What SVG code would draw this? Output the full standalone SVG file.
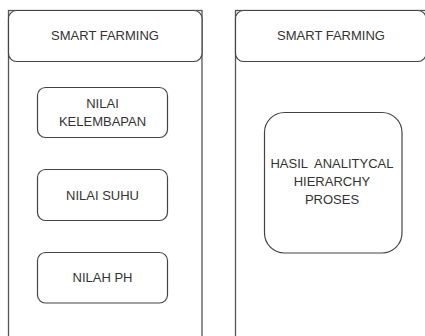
<svg xmlns="http://www.w3.org/2000/svg" width="425" height="336" viewBox="0 0 425 336">
<style>
.panel{fill:#fff;stroke:#555;stroke-width:1.3}
.box{fill:#fff;stroke:#444;stroke-width:1.2}
.t{font-family:"Liberation Sans",Arial,sans-serif;font-size:13px;fill:#333;text-anchor:middle}
</style>
<rect width="425" height="336" fill="#fff"/>
<g id="panel-left">
<rect class="panel" x="8.5" y="10.5" width="193.5" height="340"/>
<rect class="box" x="8.5" y="10.5" width="193.5" height="51" rx="8"/>
<text class="t" x="105" y="40">SMART FARMING</text>
</g>
<g id="panel-right">
<rect class="panel" x="235.5" y="10.5" width="190.5" height="340"/>
<rect class="box" x="235.5" y="10.5" width="190.5" height="51" rx="8"/>
<text class="t" x="331" y="40">SMART FARMING</text>
</g>
<g id="node-kelembapan">
<rect class="box" x="37.5" y="87.5" width="130" height="50" rx="8"/>
<text class="t" x="102.5" y="107.5">NILAI</text>
<text class="t" x="102.5" y="126">KELEMBAPAN</text>
</g>
<g id="node-suhu">
<rect class="box" x="37.5" y="169.5" width="130" height="51" rx="8"/>
<text class="t" x="102.5" y="200">NILAI SUHU</text>
</g>
<g id="node-ph">
<rect class="box" x="37.5" y="252.5" width="130" height="50.5" rx="8"/>
<text class="t" x="102.5" y="282">NILAH PH</text>
</g>
<g id="node-ahp">
<rect class="box" x="264.5" y="112.5" width="137.5" height="140.5" rx="20"/>
<text class="t" x="332" y="168" xml:space="preserve">HASIL  ANALITYCAL</text>
<text class="t" x="332" y="186">HIERARCHY</text>
<text class="t" x="332" y="204">PROSES</text>
</g>
<g id="connectors"></g>
</svg>
